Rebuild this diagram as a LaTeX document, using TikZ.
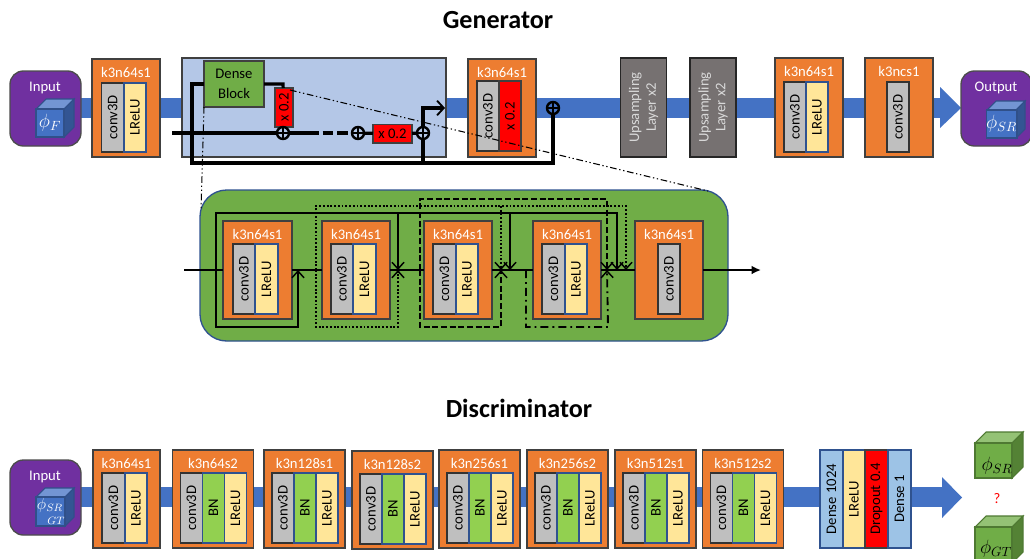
\documentclass[tikz,border=0pt]{standalone}
\usepackage{fontspec}
\setmainfont{Carlito}
\usetikzlibrary{arrows.meta,calc}
\definecolor{cOrange}{HTML}{ED7D31}
\definecolor{cGray}{HTML}{BFBFBF}
\definecolor{cYellow}{HTML}{FFE699}
\definecolor{cBN}{HTML}{92D050}
\definecolor{cBand}{HTML}{4472C4}
\definecolor{cPurple}{HTML}{7030A0}
\definecolor{cPale}{HTML}{B4C7E7}
\definecolor{cGreen}{HTML}{70AD47}
\definecolor{cSky}{HTML}{9DC3E6}
\definecolor{cDark}{HTML}{767171}
\definecolor{cEdge}{HTML}{2F528F}
\definecolor{cLine}{HTML}{404040}
\tikzset{
  base/.style={inner sep=0pt,outer sep=0pt,font=\fontsize{11}{12.5}\selectfont,align=center},
  orangebox/.style={base,fill=cOrange,draw=cLine,line width=1pt},
  convbox/.style={base,fill=cGray,draw=black!80,line width=1pt},
  reluBox/.style={base,fill=cYellow,draw=cEdge,line width=.8pt},
  bnbox/.style={base,fill=cBN,draw=cEdge,line width=.8pt},
  redbox/.style={base,fill=red,draw=cLine,line width=.8pt},
  skybox/.style={base,fill=cSky,draw=cEdge,line width=.8pt},
  upbox/.style={base,fill=cDark,text=white!85!black,draw=black!85,line width=.9pt},
  purplebox/.style={base,fill=cPurple,draw=black!70,line width=1pt,rounded corners=10pt},
  title/.style={font=\bfseries\fontsize{19.6}{22}\selectfont,inner sep=0pt},
  whitelabel/.style={text=white,font=\fontsize{11}{12.5}\selectfont,inner sep=0pt},
  bus/.style={fill=cBand,draw=none},
  heavy/.style={draw=black,line width=2.4pt},
  medium/.style={draw=black,line width=1.6pt},
  sumdot/.style={circle,draw=black,line width=1.8pt,minimum size=9pt,inner sep=0pt,outer sep=0pt,
    path picture={\draw[line width=1.6pt]
      (path picture bounding box.north)--(path picture bounding box.south)
      (path picture bounding box.west)--(path picture bounding box.east);}},
  dashdotdot/.style={draw=black,line width=.8pt,dash pattern=on 5pt off 2pt on 1pt off 2pt on 1pt off 2pt},
  barbtip/.style={-{Straight Barb[length=5pt,width=9pt,line width=1.1pt]}},
  sk/.style={draw=black,line width=1.4pt,barbtip},
  skdot/.style={draw=black,line width=1.4pt,dash pattern=on 1.4pt off 1.4pt,barbtip},
  skdash/.style={draw=black,line width=1.4pt,dash pattern=on 4.5pt off 2pt,barbtip},
  skdashdot/.style={draw=black,line width=1.4pt,dash pattern=on 6pt off 3pt on 1.4pt off 3pt,barbtip},
  cubefont/.style={font=\fontsize{14}{15}\selectfont},
}
% flat box: name, x0,y0,x1,y1, style, text
\newcommand{\flatbox}[7]{\node[#6,anchor=center,minimum width={((#4)-(#2))*0.75pt},minimum height={((#5)-(#3))*0.75pt}] (#1) at ({((#2)+(#4))/2},{((#3)+(#5))/2}) {#7};}
% rotated box
\newcommand{\rotbox}[7]{\node[#6,rotate=90,anchor=center,minimum width={((#5)-(#3))*0.75pt},minimum height={((#4)-(#2))*0.75pt}] (#1) at ({((#2)+(#4))/2},{((#3)+(#5))/2}) {#7};}
% orange block with title
\newcommand{\blockbg}[6]{\flatbox{#1}{#2}{#3}{#4}{#5}{orangebox}{}
  \node[whitelabel] (#1t) at ({((#2)+(#4))/2},{(#3)+13}) {#6};}
% cube: name, x0,y0 (front top-left), w,h, depth, colour, text
\newcommand{\cube}[8]{
  \fill[#7!75!white,draw=#7!70!black,line width=.8pt] (#2,#3) -- ++(#6,-#6) -- ++(#4,0) -- ++(-#6,#6) -- cycle;
  \fill[#7!75!black,draw=#7!70!black,line width=.8pt] ({#2+#4},#3) -- ++(#6,-#6) -- ++(0,#5) -- ++(-#6,#6) -- cycle;
  \node[fill=#7,draw=#7!70!black,line width=.8pt,inner sep=0pt,outer sep=0pt,minimum width={#4*0.75pt},minimum height={#5*0.75pt}] (#1) at ({#2+#4/2},{#3+#5/2}) {#8};
}
% name, x0, y0, label
\newcommand{\dblock}[4]{
  \blockbg{#1}{#2}{#3}{#2+81}{#3+98}{#4}
  \rotbox{#1c}{#2+8}{#3+23}{#2+30}{#3+93}{convbox}{conv3D}
  \rotbox{#1b}{#2+30}{#3+23}{#2+52}{#3+93}{bnbox}{BN}
  \rotbox{#1r}{#2+52}{#3+23}{#2+74}{#3+93}{reluBox}{LReLU}
}
\begin{document}
\begin{tikzpicture}[x=0.75pt,y=-0.75pt]
\useasboundingbox (0,0) rectangle (1030,558);
\fill[white] (0,0) rectangle (1030,558);

\node[title] (gtitle) at (498,20) {Generator};
\node[title] (dtitle) at (519,408) {Discriminator};

% ---------- generator bus
\fill[bus] (75,98) rectangle (941,118);
\fill[bus] (940,87) -- (961,108) -- (940,128) -- cycle;

\flatbox{ginput}{10}{71}{81}{146}{purplebox}{}
\node[whitelabel] (ginputt) at (45,88) {Input};
\cube{gcube}{36}{109}{28}{28}{10}{cBand}{\textcolor{white}{\fontsize{14}{15}\selectfont$\phi_F$}}

\blockbg{g1}{92}{59}{160}{157}{k3n64s1}
\rotbox{g1c}{101.5}{83}{124}{152}{convbox}{conv3D}
\rotbox{g1r}{124}{83}{146}{152}{reluBox}{LReLU}

\flatbox{dpanel}{182}{58}{446}{157}{base,fill=cPale,draw=black!75,line width=.8pt}{}
\flatbox{dense}{204}{61}{264}{107}{base,fill=cGreen,draw=black!75,line width=.8pt}{Dense\\[2pt]Block}
\rotbox{rx1}{275}{88}{293}{127}{redbox}{x 0.2}
\flatbox{rx2}{373}{124.5}{412}{143}{redbox}{x 0.2}

\blockbg{g2}{468}{59}{536}{157}{k3n64s1}
\rotbox{g2c}{477}{81}{499}{151}{convbox}{conv3D}
\rotbox{g2r}{499}{81}{521}{151}{redbox}{x 0.2}

\rotbox{up1}{620.5}{58}{666.5}{157}{upbox}{Upsampling\\Layer x2}
\rotbox{up2}{690}{58}{736}{157}{upbox}{Upsampling\\Layer x2}

\blockbg{g3}{775}{58}{843}{157}{k3n64s1}
\rotbox{g3c}{784}{82}{806}{152}{convbox}{conv3D}
\rotbox{g3r}{806}{82}{828}{152}{reluBox}{LReLU}

\blockbg{g4}{865}{58}{933}{157}{k3ncs1}
\rotbox{g4c}{887}{82}{909}{152}{convbox}{conv3D}

\flatbox{goutput}{961}{71}{1032}{146}{purplebox}{}
\node[whitelabel] (goutputt) at (996,88) {Output};
\cube{ocube}{987}{110}{29}{28}{9}{cBand}{\textcolor{white}{\fontsize{14}{15}\selectfont$\phi_{SR}$}}

% sum nodes
\node[sumdot] (s1) at (283,133) {};
\node[sumdot] (s2) at (358,133) {};
\node[sumdot] (s3) at (423,133) {};
\node[sumdot] (s4) at (553,108) {};
\coordinate (lin) at (172,133);
\coordinate (dleft) at (192,84);
\coordinate (bot) at (192,163);
\coordinate (botr) at (553,163);
\coordinate (branch) at (423,163);
\coordinate (corner) at (423,108);
\coordinate (arrEnd) at (445,108);
\coordinate (dright) at (283,84);
\coordinate (dashA) at (308,133);
\coordinate (zoomL) at (201,210);
\coordinate (zoomS) at (290,90);
\coordinate (zoomR) at (708,191);

\draw[heavy] (dense.west |- dleft) -- (dleft) -- (bot) -- (botr) -- (s4);
\draw[heavy,-{Straight Barb[length=5pt,width=11pt,line width=1.4pt]}] (branch) -- (s3) -- (corner) -- (arrEnd);
\draw[heavy] (dense.east |- dright) -- (dright) -- (rx1);
\draw[heavy] (rx1) -- (s1);
\draw[heavy] (lin) -- (s1) -- (dashA);
\draw[heavy,dash pattern=on 8pt off 3pt] (dashA) -- (s2);
\draw[heavy] (s2) -- (rx2);
\draw[heavy] (rx2) -- (s3);

% ---------- dense block detail
\flatbox{panel}{200}{190}{728}{341}{base,fill=cGreen,draw=cEdge,line width=1pt,rounded corners=20pt}{}

\draw[dashdotdot] (dense.south west) -- (zoomL);
\draw[dashdotdot] (zoomS) -- (zoomR);

\blockbg{a}{223}{221}{292}{319}{k3n64s1}
\rotbox{ac}{233}{244}{255}{314}{convbox}{conv3D}
\rotbox{ar}{255}{244}{278}{314}{reluBox}{LReLU}
\blockbg{b}{322}{221}{390}{319}{k3n64s1}
\rotbox{bc}{331}{244}{353}{314}{convbox}{conv3D}
\rotbox{br}{353}{244}{376}{314}{reluBox}{LReLU}
\blockbg{c}{424}{221}{492}{319}{k3n64s1}
\rotbox{cc}{433}{244}{456}{314}{convbox}{conv3D}
\rotbox{cr}{456}{244}{478}{314}{reluBox}{LReLU}
\blockbg{d}{533}{221}{601}{319}{k3n64s1}
\rotbox{dc}{542}{244}{565}{314}{convbox}{conv3D}
\rotbox{dr}{565}{244}{587}{314}{reluBox}{LReLU}
\blockbg{e}{635}{221}{703}{319}{k3n64s1}
\rotbox{ec}{658}{244}{680}{314}{convbox}{conv3D}

\coordinate (inL) at (184,270);
\coordinate (outR) at (761,270);
\coordinate (j216) at (216,270);
\coordinate (j298) at (298,270);
\coordinate (j316) at (316,270);
\coordinate (j398) at (398,270);
\coordinate (j420) at (420,270);
\coordinate (j501) at (501,270);
\coordinate (j510) at (510,270);
\coordinate (j526) at (526,270);
\coordinate (j607) at (607,270);
\coordinate (j617) at (617,270);
\coordinate (j626) at (626,270);

% main line
\draw[medium] (inL) -- (a.west);
\draw[medium] (a.east) -- (b.west);
\draw[medium] (b.east) -- (c.west);
\draw[medium] (c.east) -- (d.west);
\draw[medium] (d.east) -- (e.west);
\draw[medium,-{Latex[length=7pt,width=6.5pt]}] (e.east) -- (outR);

% solid skips
\draw[sk] (j216) -- (216,213) -- (617,213) -- (j617);
\draw[sk] (j216) -- (216,327) -- (298,327) -- (j298);
\draw[sk] (398,213) -- (j398);
\draw[sk] (510,213) -- (j510);
% dotted skips
\draw[skdot] (j316) -- (316,206) -- (626,206) -- (j626);
\draw[skdot] (j316) -- (316,327) -- (398,327) -- (j398);
\draw[skdot] (501,206) -- (j501);
% dashed skips
\draw[skdash] (j420) -- (420,199) -- (607,199) -- (j607);
\draw[skdash] (j420) -- (420,327) -- (501,327) -- (j501);
% dash-dot skip
\draw[skdashdot] (j526) -- (526,327) -- (608,327) -- (j607);

% ---------- discriminator
\fill[bus] (75,487) rectangle (943,507);
\fill[bus] (942,477) -- (962,497.5) -- (942,518) -- cycle;

\flatbox{dinput}{10}{460}{81}{535}{purplebox}{}
\node[whitelabel] (dinputt) at (45,477) {Input};
\cube{dcube}{36}{497}{29}{29}{9}{cBand}{}
\node[text=white,inner sep=0pt,font=\fontsize{12}{13}\selectfont] (dcubeA) at (50,505) {$\phi_{SR}$};
\node[text=white,inner sep=0pt,font=\fontsize{8}{9}\selectfont] (dcubeB) at (56,520.5) {$GT$};

\blockbg{d1}{93}{450}{160}{548}{k3n64s1}
\rotbox{d1c}{102}{473}{125}{543}{convbox}{conv3D}
\rotbox{d1r}{125}{473}{147}{543}{reluBox}{LReLU}

\dblock{d2}{172.5}{450}{k3n64s2}
\dblock{d3}{264}{450}{k3n128s1}
\dblock{d4}{352}{451}{k3n128s2}
\dblock{d5}{439}{450}{k3n256s1}
\dblock{d6}{527}{450}{k3n256s2}
\dblock{d7}{615}{450}{k3n512s1}
\dblock{d8}{702.5}{450}{k3n512s2}

\rotbox{f1}{820}{450}{843}{548}{skybox}{Dense 1024}
\rotbox{f2}{843}{450}{865}{548}{reluBox}{LReLU}
\rotbox{f3}{865}{450}{888}{548}{redbox}{Dropout 0.4}
\rotbox{f4}{888}{450}{911}{548}{skybox}{Dense 1}

\cube{sr}{975}{443}{37}{35}{11}{cGreen}{}
\node[inner sep=0pt,cubefont] (srt) at (997,466) {$\phi_{SR}$};
\node[inner sep=0pt,text=red,font=\rmfamily\fontsize{11}{12}\selectfont] (qm) at (997,499) {?};
\cube{gt}{975}{527}{37}{36}{11}{cGreen}{}
\node[inner sep=0pt,cubefont] (gtt) at (996,549) {$\phi_{GT}$};
\end{tikzpicture}
\end{document}
